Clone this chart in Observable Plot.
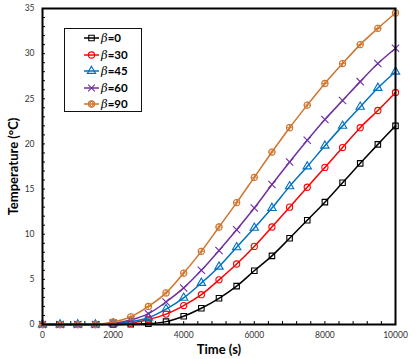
<!DOCTYPE html>
<html>
<head>
<meta charset="utf-8">
<script src="https://cdn.jsdelivr.net/npm/d3@7"></script>
<script src="https://cdn.jsdelivr.net/npm/@observablehq/plot@0.6"></script>
<style>
  html, body { margin: 0; padding: 0; background: #fff; }
  #wrap { position: relative; width: 415px; height: 359px; font-family: Lato, "Open Sans", sans-serif; }
  #legend { position: absolute; left: 64px; top: 28px; width: 76px; height: 82px; border: 1.5px solid #111; background: #fff; }
  .row { position: absolute; left: 0; height: 16px; display: flex; align-items: center; }
  .row svg { display: block; }
  .lab { font-size: 11.5px; color: #000; margin-left: 1px; white-space: nowrap; }
  .lab i { font-family: "DejaVu Serif", serif; font-style: italic; font-weight: normal; font-size: 11.5px; }
  .lab b { font-weight: bold; }
  g[aria-label="x-axis label"] text, g[aria-label="y-axis label"] text { font-weight: bold; font-size: 13px; fill: #000; }
  g[aria-label="x-axis tick label"] text, g[aria-label="y-axis tick label"] text { font-size: 8.5px; fill: #333; }
</style>
</head>
<body>
<div id="wrap"><div id="chart"></div><div id="legend"></div></div>
<script>
// Data
const time = [0, 500, 1000, 1500, 2000, 2500, 3000, 3500, 4000, 4500, 5000, 5500, 6000, 6500, 7000, 7500, 8000, 8500, 9000, 9500, 10000];
const beta0  = [0, 0, 0, 0, 0, 0.02, 0.1, 0.32, 0.92, 1.8, 2.9, 4.25, 5.95, 7.6, 9.55, 11.55, 13.55, 15.7, 17.85, 19.95, 22.0];
const beta30 = [0, 0, 0, 0, 0.05, 0.15, 0.55, 1.15, 2.1, 3.3, 4.95, 6.7, 8.65, 10.8, 13.0, 15.2, 17.4, 19.6, 21.8, 23.7, 25.7];
const beta45 = [0, 0, 0, 0, 0.1, 0.3, 0.75, 1.7, 2.95, 4.6, 6.4, 8.55, 10.7, 12.9, 15.3, 17.5, 19.8, 22.0, 24.1, 26.2, 28.0];
const beta60 = [0, 0, 0, 0, 0.15, 0.5, 1.2, 2.5, 4.05, 6.0, 8.2, 10.5, 12.9, 15.5, 18.0, 20.4, 22.7, 24.8, 26.9, 28.9, 30.6];
const beta90 = [0, 0, 0, 0, 0.28, 0.85, 2.0, 3.5, 5.7, 8.1, 10.8, 13.5, 16.3, 19.1, 21.8, 24.3, 26.7, 28.9, 31.0, 32.8, 34.5];
const seriesNames = ["β=0", "β=30", "β=45", "β=60", "β=90"];
const seriesLabels = ["0", "30", "45", "60", "90"];
const seriesValues = [beta0, beta30, beta45, beta60, beta90];
const colors = ["#000000", "#FF0000", "#0070C0", "#7030A0", "#D0742C"];
const symbols = ["square", "circle", "triangle", "times", "circle"];
const xTickLabels = [0, 2000, 4000, 6000, 8000, 10000];
const yTickLabels = [0, 5, 10, 15, 20, 25, 30, 35];
const xMinorTicks = d3.range(0, 10001, 400);
const yMinorTicks = d3.range(0, 36, 1);

const rows = [];
seriesNames.forEach((s, i) => time.forEach((t, j) => rows.push({series: s, t, v: seriesValues[i][j]})));

const marks = [
  Plot.axisX({ticks: xMinorTicks, tickSize: -3, tickFormat: () => "", label: null, stroke: "#000"}),
  Plot.axisY({ticks: yMinorTicks, tickSize: -3, tickFormat: () => "", label: null, stroke: "#000"}),
  Plot.axisX({ticks: xTickLabels, tickSize: 0, tickPadding: 7, tickFormat: d => String(d), label: "Time (s)", labelArrow: "none", labelAnchor: "center", labelOffset: 29}),
  Plot.axisY({ticks: yTickLabels, tickSize: 0, tickPadding: 8, tickFormat: d => String(d), label: "Temperature (°C)", labelArrow: "none", labelAnchor: "center", labelOffset: 34})
];
seriesNames.forEach((s, i) => {
  const d = rows.filter(r => r.series === s);
  marks.push(Plot.line(d, {x: "t", y: "v", stroke: colors[i], strokeWidth: 1.5, curve: "catmull-rom"}));
  marks.push(Plot.dot(d, {x: "t", y: "v", stroke: colors[i], fill: "none", symbol: symbols[i], r: symbols[i] === "times" ? 3.4 : 3.1, strokeWidth: 1.1}));
  if (i === 4) marks.push(Plot.dot(d, {x: "t", y: "v", stroke: colors[i], fill: "none", symbol: "plus", r: 2.4, strokeWidth: 0.9}));
});
marks.push(Plot.frame({stroke: "#000", strokeWidth: 2}));

const chart = Plot.plot({
  width: 415,
  height: 359,
  marginLeft: 42,
  marginRight: 20,
  marginTop: 8,
  marginBottom: 35,
  style: {fontFamily: "Lato, 'Open Sans', sans-serif", background: "#fff"},
  x: {domain: [0, 10000]},
  y: {domain: [0, 35]},
  marks
});
document.getElementById("chart").appendChild(chart);

// Legend (HTML overlay)
const legend = document.getElementById("legend");
const symMap = {square: d3.symbolSquare, circle: d3.symbolCircle, triangle: d3.symbolTriangle, times: d3.symbolTimes};
seriesNames.forEach((s, i) => {
  const row = document.createElement("div");
  row.className = "row";
  row.style.top = (1 + i * 16.6) + "px";
  const svg = d3.create("svg").attr("width", 35).attr("height", 16);
  svg.append("line").attr("x1", 19).attr("x2", 34).attr("y1", 8).attr("y2", 8).attr("stroke", colors[i]).attr("stroke-width", 1.5);
  svg.append("path").attr("transform", "translate(26.5,8)")
    .attr("d", d3.symbol(symMap[symbols[i]], Math.PI * 3.1 * 3.1)())
    .attr("fill", "none").attr("stroke", colors[i]).attr("stroke-width", 1.1);
  if (i === 4) svg.append("path").attr("transform", "translate(26.5,8)")
    .attr("d", d3.symbol(d3.symbolCross, Math.PI * 2.4 * 2.4)()).attr("fill", "none").attr("stroke", colors[i]).attr("stroke-width", 0.9);
  row.appendChild(svg.node());
  const lab = document.createElement("span");
  lab.className = "lab";
  lab.innerHTML = "<i>β</i><b>=" + seriesLabels[i] + "</b>";
  row.appendChild(lab);
  legend.appendChild(row);
});
</script>
</body>
</html>
